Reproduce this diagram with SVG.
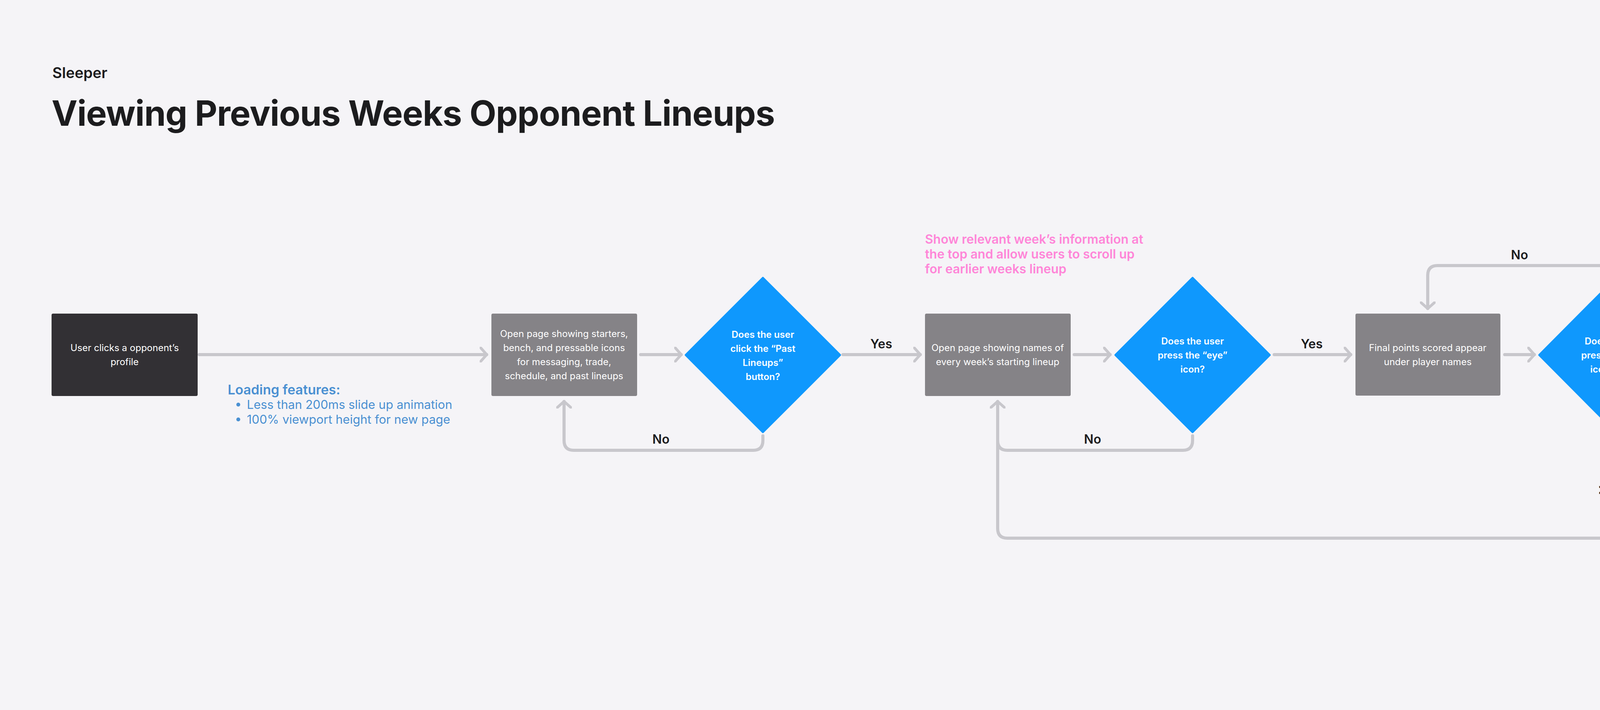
<svg xmlns="http://www.w3.org/2000/svg" width="4466" height="1818" viewBox="0 0 4466 1818">
<defs>
<marker id="ah" viewBox="0 0 20 40" refX="18" refY="20" markerWidth="20" markerHeight="40" markerUnits="userSpaceOnUse" orient="auto">
<path d="M2 2 L18 20 L2 38" fill="none" stroke="#c8c7cc" stroke-width="7" stroke-linecap="round" stroke-linejoin="round"/>
</marker>
</defs>
<style>
text{font-family:Inter,"Noto Sans","Liberation Sans",sans-serif}
.c{fill:none;stroke:#c8c7cc;stroke-width:8;stroke-linecap:round;stroke-linejoin:round}
.bt{fill:#fff;font-size:24px;text-anchor:middle}
.dt{fill:#fff;font-size:24px;font-weight:600;text-anchor:middle}
.lb{fill:#1c1c1e;font-size:32px;font-weight:600}
.dia{fill:#0f98fd}
.gb{fill:#858387}
</style>
<rect width="4466" height="1818" fill="#f5f4f7"/>
<text x="134" y="200" font-size="38" font-weight="600" fill="#1c1c1e">Sleeper</text>
<text x="132" y="322" font-size="89" font-weight="700" fill="#1c1c1e" letter-spacing="-1">Viewing Previous Weeks Opponent Lineups</text>

<g id="connectors">
<path class="c" d="M510 908 H1246" marker-end="url(#ah)"/>
<path class="c" d="M1640 908 H1744" marker-end="url(#ah)"/>
<path class="c" d="M2158 908 H2356" marker-end="url(#ah)"/>
<path class="c" d="M2750 908 H2842" marker-end="url(#ah)"/>
<path class="c" d="M3262 908 H3458" marker-end="url(#ah)"/>
<path class="c" d="M3852 908 H3928" marker-end="url(#ah)"/>
<path class="c" d="M1953 1116 V1128 Q1953 1153 1928 1153 H1469 Q1444 1153 1444 1128 V1028" marker-end="url(#ah)"/>
<path class="c" d="M3053 1116 V1128 Q3053 1153 3028 1153 H2579 Q2554 1153 2554 1128"/>
<path class="c" d="M4137 1116 V1353 Q4137 1378 4112 1378 H2579 Q2554 1378 2554 1353 V1028" marker-end="url(#ah)"/>
<path class="c" d="M4137 702 Q4137 680 4112 680 H3680 Q3655 680 3655 705 V790" marker-end="url(#ah)"/>
<text class="lb" x="2256" y="892" text-anchor="middle">Yes</text>
<text class="lb" x="3358" y="892" text-anchor="middle">Yes</text>
<text class="lb" x="1692" y="1136" text-anchor="middle">No</text>
<text class="lb" x="2797" y="1136" text-anchor="middle">No</text>
<text class="lb" x="3890" y="664" text-anchor="middle">No</text>
<text class="lb" transform="translate(4118 1238) rotate(-90)" text-anchor="middle">Yes</text>
</g>

<g id="n1">
<rect x="132" y="803" width="374" height="211" rx="4" fill="#323034"/>
<text class="bt" x="319" y="899">User clicks a opponent’s</text>
<text class="bt" x="319" y="935">profile</text>
</g>
<g id="note1">
<text x="583" y="1010" font-size="34" font-weight="600" fill="#4a90d2">Loading features:</text>
<circle cx="610" cy="1036" r="5" fill="#4a90d2"/>
<text x="632" y="1047" font-size="31" fill="#4a90d2">Less than 200ms slide up animation</text>
<circle cx="610" cy="1074" r="5" fill="#4a90d2"/>
<text x="632" y="1085" font-size="31" fill="#4a90d2">100% viewport height for new page</text>
</g>
<g id="n2">
<rect class="gb" x="1258" y="803" width="373" height="211" rx="4"/>
<text class="bt" x="1444" y="863">Open page showing starters,</text>
<text class="bt" x="1444" y="899">bench, and pressable icons</text>
<text class="bt" x="1444" y="935">for messaging, trade,</text>
<text class="bt" x="1444" y="971">schedule, and past lineups</text>
</g>
<g id="d1">
<path class="dia" d="M1953 712 L2150 909 L1953 1106 L1756 909 Z" stroke="#0f98fd" stroke-width="6" stroke-linejoin="round"/>
<text class="dt" x="1953" y="865">Does the user</text>
<text class="dt" x="1953" y="901">click the “Past</text>
<text class="dt" x="1953" y="937">Lineups”</text>
<text class="dt" x="1953" y="973">button?</text>
</g>
<g id="note2">
<text x="2368" y="624" font-size="32" font-weight="600" fill="#ff85d8">Show relevant week’s information at</text>
<text x="2368" y="662" font-size="32" font-weight="600" fill="#ff85d8">the top and allow users to scroll up</text>
<text x="2368" y="700" font-size="32" font-weight="600" fill="#ff85d8">for earlier weeks lineup</text>
</g>
<g id="n3">
<rect class="gb" x="2368" y="803" width="373" height="211" rx="4"/>
<text class="bt" x="2554" y="899">Open page showing names of</text>
<text class="bt" x="2554" y="935">every week’s starting lineup</text>
</g>
<g id="d2">
<path class="dia" d="M3053 712 L3250 909 L3053 1106 L2856 909 Z" stroke="#0f98fd" stroke-width="6" stroke-linejoin="round"/>
<text class="dt" x="3053" y="882">Does the user</text>
<text class="dt" x="3053" y="918">press the “eye”</text>
<text class="dt" x="3053" y="954">icon?</text>
</g>
<g id="n4">
<rect class="gb" x="3470" y="803" width="371" height="210" rx="4"/>
<text class="bt" x="3655" y="899">Final points scored appear</text>
<text class="bt" x="3655" y="935">under player names</text>
</g>
<g id="d3">
<path class="dia" d="M4137 712 L4333 909 L4137 1106 L3941 909 Z" stroke="#0f98fd" stroke-width="6" stroke-linejoin="round"/>
<text class="dt" x="4137" y="882">Does the user</text>
<text class="dt" x="4137" y="918">press the “eye”</text>
<text class="dt" x="4137" y="954">icon again?</text>
</g>
</svg>
